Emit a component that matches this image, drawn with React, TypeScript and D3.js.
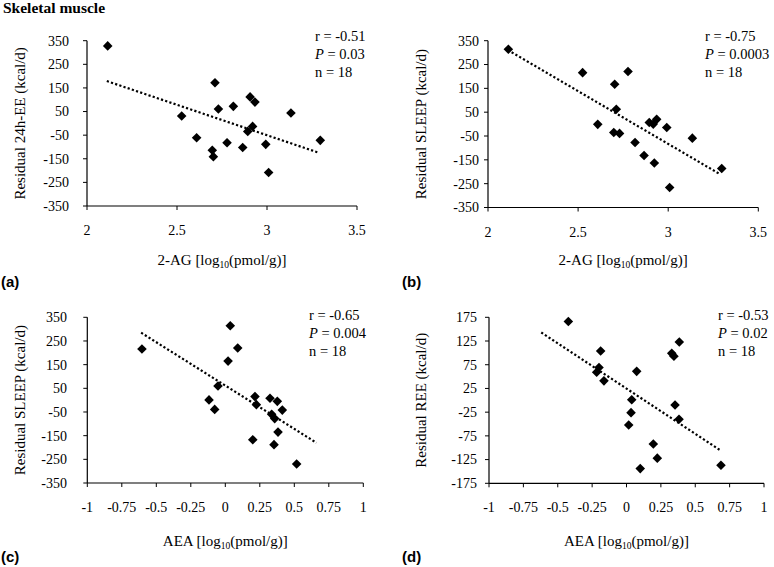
import React from "react";
import * as d3 from "d3";

// ---------- data ----------
const agA = [2.115, 2.711, 2.73, 2.813, 2.526, 2.609, 2.696, 2.702, 2.778, 2.865, 2.906, 2.933, 2.92, 2.893, 2.993, 3.009, 3.133, 3.296];
const ee24A = [328, 172, 61, 72, 31, -61, -114, -141, -82, -102, 112, 90, -13, -34, -89, -208, 44, -72];

const agB = [2.113, 2.525, 2.777, 2.703, 2.712, 2.609, 2.698, 2.73, 2.816, 2.866, 2.923, 2.895, 2.917, 2.936, 2.992, 3.008, 3.134, 3.297];
const sleepB = [314, 216, 221, 167, 62, -1, -35, -39, -77, -132, -163, 7, 0, 20, -14, -266, -59, -186];

const aeaC = [-0.604, 0.036, 0.09, 0.02, -0.053, -0.118, -0.077, 0.215, 0.225, 0.324, 0.377, 0.413, 0.336, 0.358, 0.382, 0.199, 0.353, 0.517];
const sleepC = [216, 314, 220, 165, 60, 1, -39, 15, -19, 8, -5, -42, -60, -78, -135, -167, -188, -270];

const aeaD = [-0.423, -0.188, -0.2, -0.217, -0.164, 0.074, 0.038, 0.033, 0.016, 0.195, 0.224, 0.1, 0.329, 0.345, 0.384, 0.353, 0.382, 0.687];
const reeD = [166, 104, 69, 59, 41, 61, 1, -26, -52, -92, -122, -144, 99, 93, 123, -10, -40, -137];

const trendA: [number, number][] = [[2.11, 179], [3.29, -125]];
const trendB: [number, number][] = [[2.11, 311], [3.28, -207]];
const trendC: [number, number][] = [[-0.61, 285], [0.66, -180]];
const trendD: [number, number][] = [[-0.62, 143], [0.68, -105]];

const ticksAG = [2, 2.5, 3, 3.5];
const ticksAEA = [-1, -0.75, -0.5, -0.25, 0, 0.25, 0.5, 0.75, 1];
const ticksY350 = [-350, -250, -150, -50, 50, 150, 250, 350];
const ticksY175 = [-175, -125, -75, -25, 25, 75, 125, 175];

const statsA = ["-0.51", "0.03", "18"];
const statsB = ["-0.75", "0.0003", "18"];
const statsC = ["-0.65", "0.004", "18"];
const statsD = ["-0.53", "0.02", "18"];

const SERIF = "Liberation Serif, Times New Roman, serif";
const SANS = "Liberation Sans, Arial, sans-serif";

type PanelProps = {
  xs: number[];
  ys: number[];
  trend: [number, number][];
  xTicks: number[];
  yTicks: number[];
  xDomain: [number, number];
  yDomain: [number, number];
  x0: number; x1: number; y0: number; y1: number;
  yLabel: string;
  xName: string;
  yLabelX: number;
  tickRight: number;
  xLabelY: number;
  statsX: number;
  statsY: number;
  stats: string[];
};

function Panel(p: PanelProps) {
  const xs = d3.scaleLinear().domain(p.xDomain).range([p.x0, p.x1]);
  const ys = d3.scaleLinear().domain(p.yDomain).range([p.y1, p.y0]);
  const diamond = d3.symbol().type(d3.symbolSquare).size(46)()!;
  const line = d3.line<[number, number]>().x(d => xs(d[0])).y(d => ys(d[1]));
  const fmt = (v: number) => String(v);
  const cx = (p.x0 + p.x1) / 2;
  const cy = (p.y0 + p.y1) / 2;
  return (
    <g>
      <line x1={p.x0} x2={p.x0} y1={p.y0} y2={p.y1} stroke="#000" strokeWidth={1.2} />
      <line x1={p.x0} x2={p.x1} y1={p.y1} y2={p.y1} stroke="#000" strokeWidth={1.2} />
      {p.yTicks.map(t => (
        <g key={"y" + t}>
          <line x1={p.x0 - 4} x2={p.x0} y1={ys(t)} y2={ys(t)} stroke="#000" strokeWidth={1} />
          <text x={p.tickRight} y={ys(t)} dy="0.35em" textAnchor="end" fontFamily={SERIF} fontSize={14}>{fmt(t)}</text>
        </g>
      ))}
      {p.xTicks.map(t => (
        <g key={"x" + t}>
          <line x1={xs(t)} x2={xs(t)} y1={p.y1} y2={p.y1 + 4} stroke="#000" strokeWidth={1} />
          <text x={xs(t)} y={p.y1 + 29} textAnchor="middle" fontFamily={SERIF} fontSize={14}>{fmt(t)}</text>
        </g>
      ))}
      <path d={line(p.trend) || ""} fill="none" stroke="#000" strokeWidth={2.2} strokeDasharray="2.2 2.2" />
      {p.xs.map((v, i) => (
        <path key={i} d={diamond} transform={`translate(${xs(v)},${ys(p.ys[i])}) rotate(45)`} fill="#000" />
      ))}
      <text transform={`translate(${p.yLabelX},${cy}) rotate(-90)`} textAnchor="middle" fontFamily={SERIF} fontSize={15}>{p.yLabel}</text>
      <text x={cx} y={p.xLabelY} textAnchor="middle" fontFamily={SERIF} fontSize={15}>
        {p.xName} [log<tspan fontSize={9.5} dy={3}>10</tspan><tspan dy={-3}>(pmol/g)]</tspan>
      </text>
      <text x={p.statsX} y={p.statsY} fontFamily={SERIF} fontSize={14.5}>{"r = " + p.stats[0]}</text>
      <text x={p.statsX} y={p.statsY + 18} fontFamily={SERIF} fontSize={14.5}><tspan fontStyle="italic">P</tspan>{" = " + p.stats[1]}</text>
      <text x={p.statsX} y={p.statsY + 36} fontFamily={SERIF} fontSize={14.5}>{"n = " + p.stats[2]}</text>
    </g>
  );
}

export default function App() {
  return (
    <svg width={774} height={567} style={{ position: "absolute", left: 0, top: 0, background: "#fff" }}>
      <rect width={774} height={567} fill="#fff" />
      <text x={3} y={13} fontFamily={SERIF} fontWeight="bold" fontSize={15.5}>Skeletal muscle</text>
      <Panel xs={agA} ys={ee24A} trend={trendA} xTicks={ticksAG} yTicks={ticksY350} xDomain={[2, 3.5]} yDomain={[-350, 350]}
        x0={87} x1={357} y0={40.7} y1={206} yLabel="Residual 24h-EE (kcal/d)" xName="2-AG" yLabelX={25} tickRight={69}
        xLabelY={265} statsX={315} statsY={41} stats={statsA} />
      <Panel xs={agB} ys={sleepB} trend={trendB} xTicks={ticksAG} yTicks={ticksY350} xDomain={[2, 3.5]} yDomain={[-350, 350]}
        x0={488} x1={758.3} y0={40.7} y1={207.5} yLabel="Residual SLEEP (kcal/d)" xName="2-AG" yLabelX={426} tickRight={479}
        xLabelY={265} statsX={705} statsY={41} stats={statsB} />
      <Panel xs={aeaC} ys={sleepC} trend={trendC} xTicks={ticksAEA} yTicks={ticksY350} xDomain={[-1, 1]} yDomain={[-350, 350]}
        x0={87.3} x1={363.3} y0={317.3} y1={483} yLabel="Residual SLEEP (kcal/d)" xName="AEA" yLabelX={25} tickRight={67}
        xLabelY={546} statsX={309} statsY={320} stats={statsC} />
      <Panel xs={aeaD} ys={reeD} trend={trendD} xTicks={ticksAEA} yTicks={ticksY175} xDomain={[-1, 1]} yDomain={[-175, 175]}
        x0={489} x1={764} y0={317.3} y1={483.3} yLabel="Residual REE (kcal/d)" xName="AEA" yLabelX={426} tickRight={477}
        xLabelY={546} statsX={718} statsY={320} stats={statsD} />
      <text x={1} y={287} fontFamily={SANS} fontWeight="bold" fontSize={15}>(a)</text>
      <text x={402} y={287} fontFamily={SANS} fontWeight="bold" fontSize={15}>(b)</text>
      <text x={1} y={562} fontFamily={SANS} fontWeight="bold" fontSize={15}>(c)</text>
      <text x={402} y={562} fontFamily={SANS} fontWeight="bold" fontSize={15}>(d)</text>
    </svg>
  );
}
